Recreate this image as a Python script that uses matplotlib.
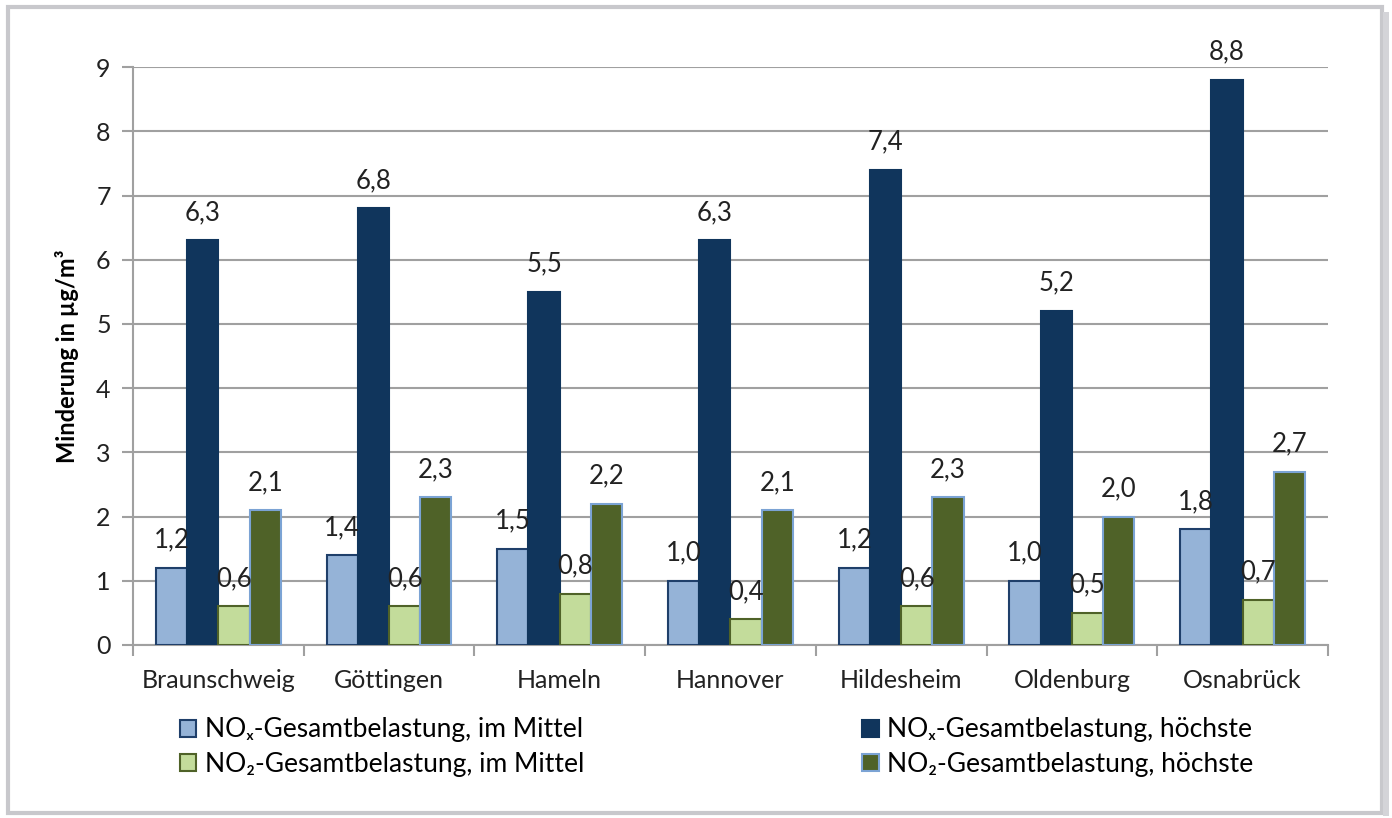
import numpy as np
import matplotlib
matplotlib.use("Agg")
from matplotlib import pyplot as plt
from matplotlib.patches import Rectangle

plt.rcParams["font.family"] = ["Lato", "DejaVu Sans"]

cities = ["Braunschweig", "Göttingen", "Hameln", "Hannover", "Hildesheim", "Oldenburg", "Osnabrück"]
noxMittel = [1.2, 1.4, 1.5, 1.0, 1.2, 1.0, 1.8]
noxHoechste = [6.3, 6.8, 5.5, 6.3, 7.4, 5.2, 8.8]
no2Mittel = [0.6, 0.6, 0.8, 0.4, 0.6, 0.5, 0.7]
no2Hoechste = [2.1, 2.3, 2.2, 2.1, 2.3, 2.0, 2.7]

seriesNames = [
    "NOₓ-Gesamtbelastung, im Mittel",
    "NOₓ-Gesamtbelastung, höchste",
    "NO₂-Gesamtbelastung, im Mittel",
    "NO₂-Gesamtbelastung, höchste",
]

styles = [
    {"color": "#95B3D7", "edge": "#1F3F6A"},
    {"color": "#10355C", "edge": "#10355C"},
    {"color": "#C3DC9B", "edge": "#4F6228"},
    {"color": "#4F6228", "edge": "#7BA3D4"},
]

fig = plt.figure(figsize=(13.92, 8.18), dpi=100)
ax = fig.add_axes([0.0955, 0.2115, 0.8585, 0.7065])

# outer frame like the office chart area
fig.patches.append(Rectangle((0.0055, 0.006), 0.987, 0.985, transform=fig.transFigure,
                             fill=False, edgecolor="#C8C8CC", linewidth=3))
fig.patches.append(Rectangle((0.9935, 0.003), 0.004, 0.982, transform=fig.transFigure,
                             facecolor="#D4D4D8", edgecolor="none"))

x = np.arange(len(cities))
width = 0.183
allSeries = [noxMittel, noxHoechste, no2Mittel, no2Hoechste]
handles = []
for i, vals in enumerate(allSeries):
    offset = (i - 1.5) * width
    rects = ax.bar(x + offset, vals, width, color=styles[i]["color"],
                   edgecolor=styles[i]["edge"], linewidth=1.5, label=seriesNames[i], zorder=3)
    handles.append(rects)
    for xi, v in zip(x + offset, vals):
        ax.annotate("{:.1f}".format(v).replace(".", ","), (xi, v), xytext=(0, 20),
                    textcoords="offset points", ha="center", va="center",
                    fontsize=18.5, color="#222222", zorder=4)

ax.set_xlim(-0.5, len(cities) - 0.5)
ax.set_ylim(0, 9)
ax.set_yticks(range(0, 10))
ax.set_xticks(x)
ax.set_xticklabels(cities)
ax.set_xticks(np.arange(-0.5, len(cities)), minor=True)
ax.tick_params(axis="x", which="major", length=0, labelsize=18, pad=17, colors="#222222")
ax.tick_params(axis="x", which="minor", length=8, width=1.5, color="#A0A0A0")
ax.tick_params(axis="y", length=8, width=1.5, color="#A0A0A0", labelsize=18, labelcolor="#222222", pad=8)
ax.yaxis.grid(True, color="#A0A0A0", linewidth=1.5, zorder=0)
for side in ["top", "right"]:
    ax.spines[side].set_visible(False)
for side in ["left", "bottom"]:
    ax.spines[side].set_color("#A0A0A0")
    ax.spines[side].set_linewidth(1.5)

ax.set_ylabel("Minderung in µg/m³", fontsize=17, fontweight="bold", labelpad=12)

order = [0, 2, 1, 3]
fig.legend([handles[i] for i in order], [seriesNames[i] for i in order], ncol=2,
           loc="upper left", bbox_to_anchor=(0.129, 0.123), frameon=False, fontsize=19,
           handlelength=0.62, handleheight=0.62, handletextpad=0.33, columnspacing=10.55,
           labelspacing=0.36, borderaxespad=0, borderpad=0)

fig.savefig("out.png", dpi=100)
